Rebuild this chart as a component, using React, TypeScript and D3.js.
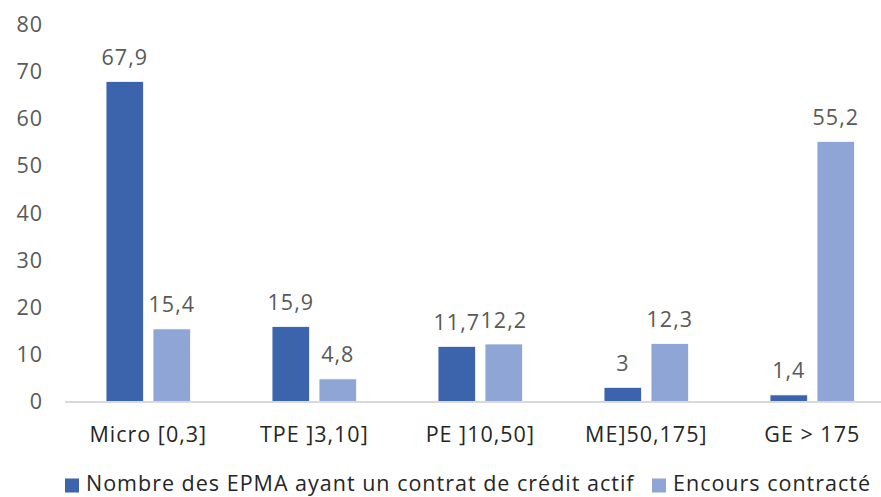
import React from "react";
import * as d3 from "d3";

const categories = ["Micro [0,3]", "TPE ]3,10]", "PE ]10,50]", "ME]50,175]", "GE > 175"];
const seriesNames = ["Nombre des EPMA ayant un contrat de crédit actif", "Encours contracté"];
const nombreEPMA = [67.9, 15.9, 11.7, 3, 1.4];
const encours = [15.4, 4.8, 12.2, 12.3, 55.2];
const yTicks = [0, 10, 20, 30, 40, 50, 60, 70, 80];
const colors = ["#3C64AD", "#8FA5D5"];

const W = 881;
const H = 497;
const FONT = "'Open Sans', sans-serif";
const TEXT = "#595959";
const FS = 21.5;
const LS = 1;

export default function App() {
  const x0 = d3.scaleBand<string>().domain(categories).range([65.3, 895.3]).paddingInner(0).paddingOuter(0);
  const y = d3.scaleLinear().domain([0, 80]).range([401.5, 24.5]);
  const barW = 37.5;
  const gap = 9.5;
  const fmt = (v: number) => String(v).replace(".", ",");
  const series = [nombreEPMA, encours];

  return (
    <svg width={W} height={H} style={{ position: "absolute", left: 0, top: 0 }} fontFamily={FONT} letterSpacing={LS}>
      <rect width={W} height={H} fill="#fff" />
      {yTicks.map((t) => (
        <text key={t} x={43} y={y(t)} dy="0.35em" textAnchor="end" fontSize={FS} fill={TEXT}>
          {t}
        </text>
      ))}
      {categories.map((c, i) => {
        const cx = x0(c)! + x0.bandwidth() / 2;
        return (
          <g key={c}>
            {series.map((s, k) => {
              const bx = k === 0 ? cx - gap / 2 - barW : cx + gap / 2;
              return (
                <g key={k}>
                  <rect x={bx} y={y(s[i])} width={barW} height={y(0) - y(s[i])} fill={colors[k]} stroke="#fff" strokeWidth={0.75} />
                  <text x={bx + barW / 2} y={y(s[i]) - 24} dy="0.35em" textAnchor="middle" fontSize={FS} fill={TEXT}>
                    {fmt(s[i])}
                  </text>
                </g>
              );
            })}
            <text x={cx} y={434} dy="0.35em" textAnchor="middle" fontSize={FS} fill="#262626">
              {c}
            </text>
          </g>
        );
      })}
      <line x1={65} x2={W} y1={y(0) + 0.5} y2={y(0) + 0.5} stroke="#D9D9D9" strokeWidth={2} />
      <g>
        <rect x={65} y={478.5} width={14} height={14} fill={colors[0]} />
        <text x={86} y={483.5} dy="0.35em" fontSize={FS} fill="#262626">{seriesNames[0]}</text>
        <rect x={652} y={478.5} width={14} height={14} fill={colors[1]} />
        <text x={673} y={483.5} dy="0.35em" fontSize={FS} fill="#262626">{seriesNames[1]}</text>
      </g>
    </svg>
  );
}
